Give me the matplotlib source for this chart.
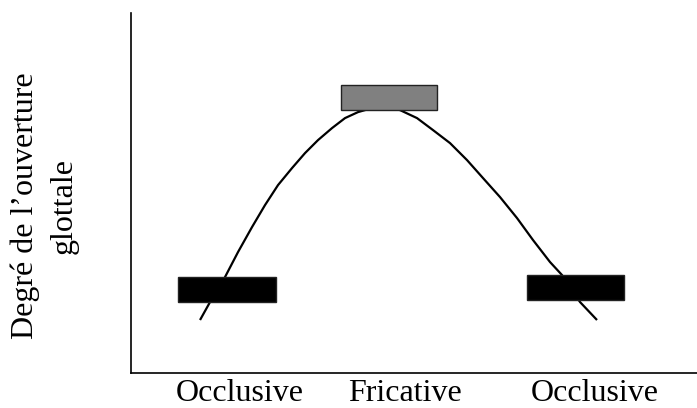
import matplotlib
matplotlib.use("Agg")
import matplotlib.pyplot as plt

# curve of glottal opening (time units, opening units)
curve_t = [69, 79, 94, 107, 121, 134, 147, 161, 174, 187, 201, 214, 227, 241, 254,
           269, 286, 302, 319, 336, 352, 369, 386, 402, 419, 431, 449, 466]
curve_open = [53, 71, 96, 121, 146, 168, 188, 205, 220, 233, 245, 255, 261, 265, 266,
              263, 255, 243, 230, 213, 195, 176, 155, 133, 111, 98, 71, 53]

# articulation blocks
block_center = [96, 258, 444.5]
block_width = [98, 96, 97]
block_bottom = [71, 263, 73]
block_height = [25, 25, 25]
block_color = ["black", "#808080", "black"]

tick_pos = [109, 274, 464]
tick_labels = ["Occlusive", "Fricative", "Occlusive"]

plt.rcParams["font.family"] = ["Liberation Serif", "DejaVu Serif"]

fig = plt.figure(figsize=(6.97, 4.08), dpi=100)
ax = fig.add_axes([0.188, 0.0858, 0.812, 0.882])

ax.plot(curve_t, curve_open, color="black", linewidth=1.6, zorder=1,
        solid_joinstyle="round", solid_capstyle="butt")
ax.bar(block_center, block_height, width=block_width, bottom=block_bottom,
       color=block_color, edgecolor="#222222", linewidth=1, zorder=2)

ax.set_xlim(0, 566)
ax.set_ylim(0, 360)
ax.spines["top"].set_visible(False)
ax.spines["right"].set_visible(False)
ax.spines["left"].set_linewidth(1.2)
ax.spines["bottom"].set_linewidth(1.2)
ax.set_yticks([])
ax.set_xticks(tick_pos)
ax.set_xticklabels(tick_labels, fontsize=23)
ax.tick_params(axis="x", length=0, pad=4)

fig.text(0.064, 0.495, "Degré de l’ouverture\nglottale", rotation=90,
         ha="center", va="center", fontsize=23, linespacing=1.4)

fig.savefig("out.png", dpi=100)
